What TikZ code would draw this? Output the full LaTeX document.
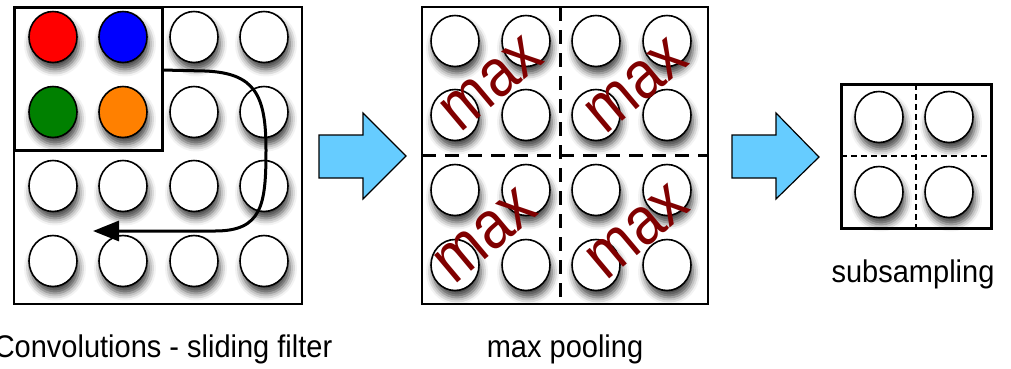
\documentclass[tikz,border=0pt]{standalone}
\usepackage{fontspec}
\setmainfont{Liberation Sans}
\usetikzlibrary{arrows.meta,shapes.geometric,shadows.blur}

\definecolor{skyblue}{RGB}{102,204,255}
\definecolor{maxred}{RGB}{128,0,0}
\definecolor{ured}{RGB}{255,0,0}
\definecolor{ublue}{RGB}{0,0,255}
\definecolor{ugreen}{RGB}{0,128,0}
\definecolor{uorange}{RGB}{255,128,0}

\tikzset{
  unit/.style={ellipse, draw=black, line width=1.6pt, fill=white,
    minimum width=48pt, minimum height=51pt, inner sep=0pt,
    blur shadow={shadow xshift=2pt, shadow yshift=-7pt,
      shadow blur radius=7pt, shadow opacity=75}},
  panel/.style={draw=black, line width=1.4pt},
  thickpanel/.style={draw=black, line width=3pt},
  bigarrow/.style={draw=black, line width=1.2pt, fill=skyblue, line join=miter},
  slide/.style={draw=black, line width=3pt, -{Triangle[length=26pt, width=20pt]}},
  pooldash/.style={draw=black, line width=3pt, dash pattern=on 14pt off 9pt},
  subdash/.style={draw=black, line width=1.2pt, dash pattern=on 6pt off 4pt},
  maxlbl/.style={text=maxred, font=\fontsize{59}{59}\selectfont, rotate=40,
    yscale=1.15, inner sep=0pt},
  caption/.style={text=black, font=\fontsize{29}{34}\selectfont, yscale=1.08,
    anchor=base, inner sep=0pt}
}

\begin{document}
\begin{tikzpicture}[x=1pt, y=-1pt]
  \useasboundingbox (0,0) rectangle (1011,368);

  % ---- convolution layer with sliding filter ----
  \draw[panel] (14,7) rectangle (302,304);
  \foreach \cx/\cy/\col/\nm in {
      53/37/ured/a11, 123/37/ublue/a12, 194/37/white/a13, 264/37/white/a14,
      53/112/ugreen/a21, 123/112/uorange/a22, 194/112/white/a23, 264/112/white/a24,
      53/186/white/a31, 123/186/white/a32, 194/186/white/a33, 264/186/white/a34,
      53/261/white/a41, 123/261/white/a42, 194/261/white/a43, 264/261/white/a44}
    \node[unit, fill=\col] (\nm) at (\cx,\cy) {};
  \draw[thickpanel] (14,7) rectangle (162,150);
  \coordinate (slideStart) at (162,70);
  \coordinate (slideEnd) at (93,231);
  \draw[slide] (slideStart) -- (205,71)
    .. controls (255,73) and (266,95) .. (266,150)
    .. controls (266,205) and (262,231) .. (215,231) -- (slideEnd);

  % ---- arrow to pooling ----
  \draw[bigarrow] (319,135) -- (363,135) -- (363,113) -- (406,156)
    -- (363,199) -- (363,178) -- (319,178) -- cycle;

  % ---- max pooling layer ----
  \draw[panel] (422,7) rectangle (708,304);
  \foreach \cx [count=\i] in {455,526,596,667}
    \foreach \cy [count=\j] in {41,115,190,265}
      \node[unit] (b\j\i) at (\cx,\cy) {};
  \draw[pooldash] (560,7) -- (560,304);
  \draw[pooldash] (422,155) -- (708,155);
  \node[maxlbl] (m1) at (492,84) {max};
  \node[maxlbl] (m2) at (637,86) {max};
  \node[maxlbl] (m3) at (486,236) {max};
  \node[maxlbl] (m4) at (638,232) {max};

  % ---- arrow to subsampled map ----
  \draw[bigarrow] (732,135) -- (776,135) -- (776,113) -- (819,157)
    -- (776,199) -- (776,178) -- (732,178) -- cycle;

  % ---- subsampled map ----
  \foreach \cx [count=\i] in {879,949}
    \foreach \cy [count=\j] in {117,192}
      \node[unit] (c\j\i) at (\cx,\cy) {};
  \draw[subdash] (916,84) -- (916,228);
  \draw[subdash] (841,156) -- (991,156);
  \draw[thickpanel] (841,84) rectangle (991,228);

  % ---- captions ----
  \node[caption] (capConv) at (163,357) {Convolutions - sliding filter};
  \node[caption] (capPool) at (565,357) {max pooling};
  \node[caption] (capSub) at (913,282) {subsampling};
\end{tikzpicture}
\end{document}
